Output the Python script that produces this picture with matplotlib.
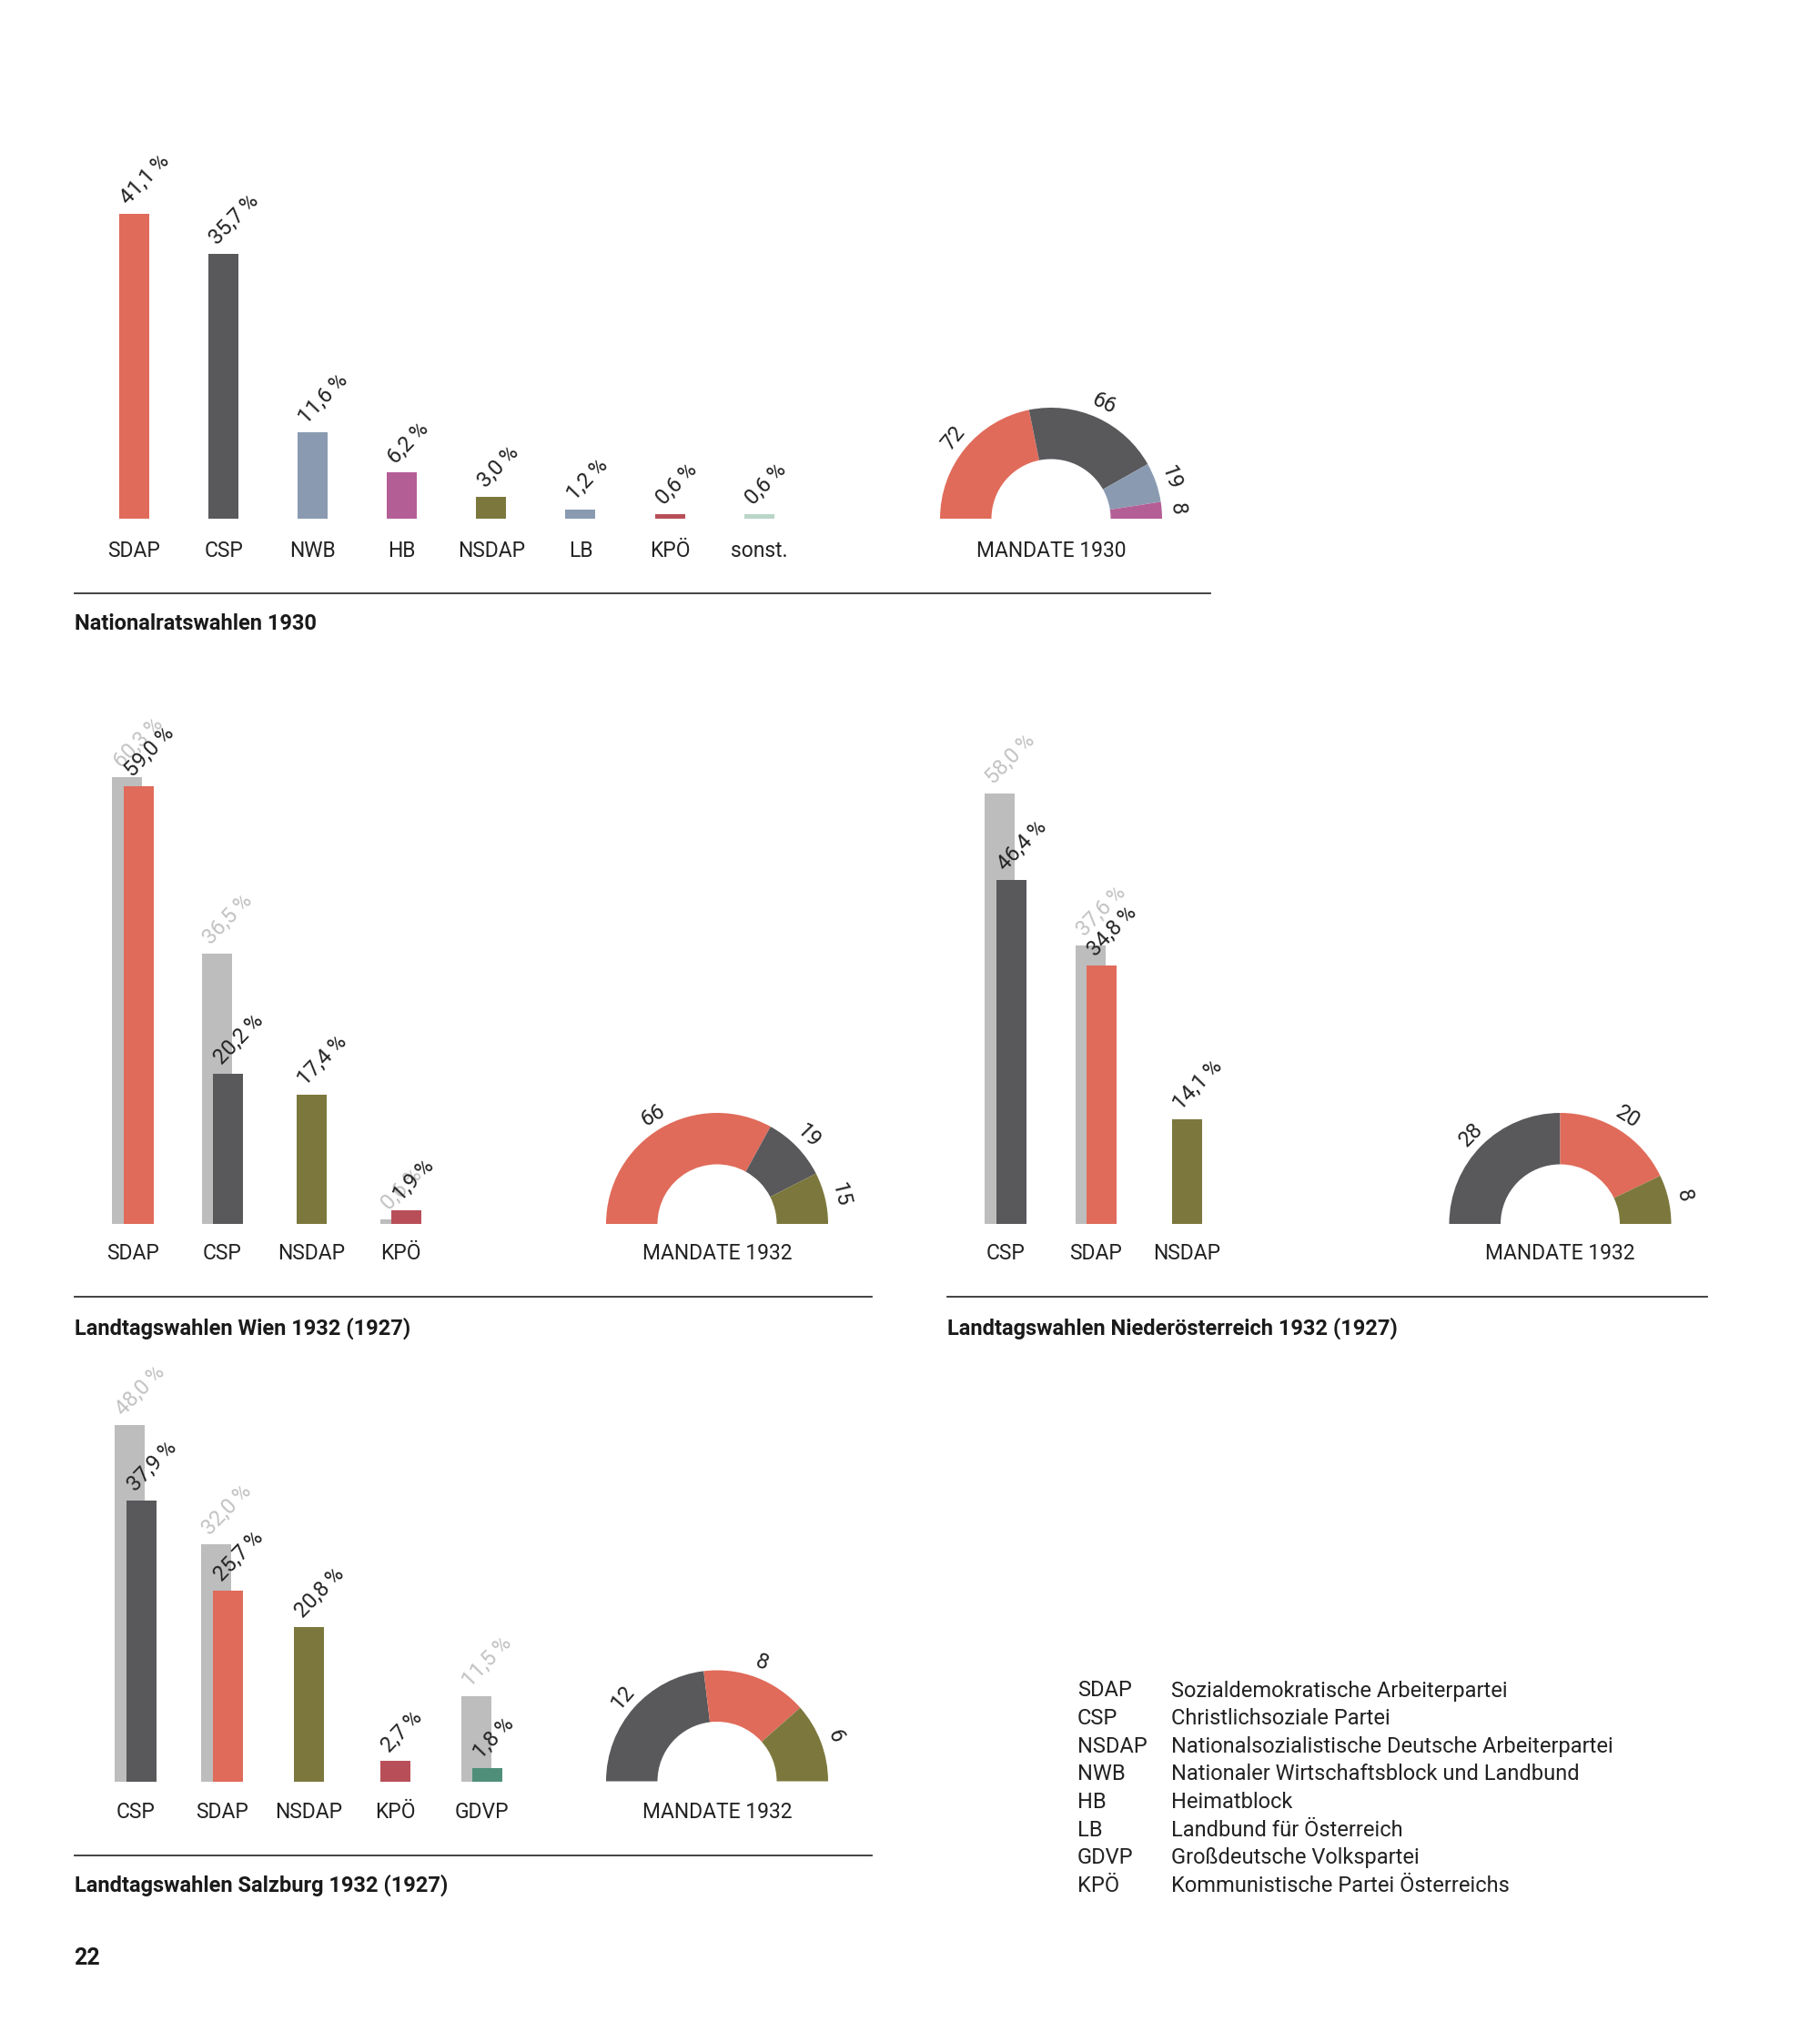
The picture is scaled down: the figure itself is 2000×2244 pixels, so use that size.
import math
import matplotlib
matplotlib.use("Agg")
import matplotlib.pyplot as plt
from matplotlib.lines import Line2D

plt.rcParams['font.family'] = ['Roboto', 'DejaVu Sans']

# ---------------- data ----------------
# Nationalratswahlen 1930
nr_parties = ["SDAP", "CSP", "NWB", "HB", "NSDAP", "LB", "KPÖ", "sonst."]
nr_votes = [41.1, 35.7, 11.6, 6.2, 3.0, 1.2, 0.6, 0.6]
nr_seat_parties = ["SDAP", "CSP", "NWB", "HB"]
nr_seats = [72, 66, 19, 8]

# Landtagswahlen Wien 1932 (1927)
wien_parties = ["SDAP", "CSP", "NSDAP", "KPÖ"]
wien_1932 = [59.0, 20.2, 17.4, 1.9]
wien_1927 = [60.3, 36.5, None, 0.6]
wien_seat_parties = ["SDAP", "CSP", "NSDAP"]
wien_seats = [66, 19, 15]

# Landtagswahlen Niederösterreich 1932 (1927)
noe_parties = ["CSP", "SDAP", "NSDAP"]
noe_1932 = [46.4, 34.8, 14.1]
noe_1927 = [58.0, 37.6, None]
noe_seat_parties = ["CSP", "SDAP", "NSDAP"]
noe_seats = [28, 20, 8]

# Landtagswahlen Salzburg 1932 (1927)
sbg_parties = ["CSP", "SDAP", "NSDAP", "KPÖ", "GDVP"]
sbg_1932 = [37.9, 25.7, 20.8, 2.7, 1.8]
sbg_1927 = [48.0, 32.0, None, None, 11.5]
sbg_seat_parties = ["CSP", "SDAP", "NSDAP"]
sbg_seats = [12, 8, 6]

legend_abbr = ["SDAP", "CSP", "NSDAP", "NWB", "HB", "LB", "GDVP", "KPÖ"]
legend_full = ["Sozialdemokratische Arbeiterpartei", "Christlichsoziale Partei",
               "Nationalsozialistische Deutsche Arbeiterpartei",
               "Nationaler Wirtschaftsblock und Landbund", "Heimatblock",
               "Landbund für Österreich", "Großdeutsche Volkspartei",
               "Kommunistische Partei Österreichs"]

titles = ["Nationalratswahlen 1930", "Landtagswahlen Wien 1932 (1927)",
          "Landtagswahlen Niederösterreich 1932 (1927)",
          "Landtagswahlen Salzburg 1932 (1927)"]
page_number = "22"

# ---------------- styles ----------------
party_colors = {
    "SDAP": "#E06B5A", "CSP": "#59585B", "NWB": "#8A9BB1", "HB": "#B45E96",
    "NSDAP": "#7C783D", "LB": "#8A9BB1", "KPÖ": "#B84F58", "sonst.": "#B9D6C8",
    "GDVP": "#4F8F79",
}
PREV_COLOR = "#BDBDBD"
PREV_TEXT = "#C2C2C2"
TEXT = "#222222"
LINE = "#333333"

W, H = 2000, 2244
fig = plt.figure(figsize=(W / 100, H / 100), dpi=100)
fig.patch.set_facecolor("white")

PX_PER_PCT = 8.15
BAR_W = 33.0
OFFSET = 6.3
LABEL_FS = 16.5
VALUE_FS = 17
TITLE_FS = 17
LEGEND_FS = 17


def px_axes(left, top, width, height):
    return fig.add_axes([left / W, 1 - (top + height) / H, width / W, height / H])


def fmt(v):
    return f"{v:.1f}".replace(".", ",") + "\u2009%"


def bar_panel(baseline, start, spacing, parties, cur, prev, label_y, left, right):
    height = 600
    ax = px_axes(left, baseline - height, right - left, height)
    ax.set_ylim(0, height / PX_PER_PCT)
    ax.set_xlim((left - start) / spacing, (right - start) / spacing)
    ax.axis("off")
    bw = BAR_W / spacing
    off = OFFSET / spacing
    dx = 10 / spacing
    dy = 9 / PX_PER_PCT
    for i, p in enumerate(parties):
        pv = prev[i] if prev is not None else None
        xc = i
        if pv is not None:
            ax.bar(i - off, pv, width=bw, color=PREV_COLOR, linewidth=0)
            xc = i + off
            ax.text(i - off - bw / 2 + dx, pv + dy, fmt(pv), rotation=46,
                    rotation_mode="anchor", ha="left", va="baseline",
                    fontsize=VALUE_FS, color=PREV_TEXT)
        ax.bar(xc, cur[i], width=bw, color=party_colors[p], linewidth=0)
        ax.text(xc - bw / 2 + dx, cur[i] + dy, fmt(cur[i]), rotation=46,
                rotation_mode="anchor", ha="left", va="baseline",
                fontsize=VALUE_FS, color=TEXT)
        ax.text(i, -(label_y - baseline) / PX_PER_PCT, p, ha="center",
                va="center", fontsize=LABEL_FS, color=TEXT)
    return ax


R_PX = 122.0
RING_PX = 56.5


def mandate(cx, cy, parties, seats, title, label_y):
    S = 175
    ax = px_axes(cx - S, cy - S, 2 * S, 2 * S)
    total = sum(seats)
    cols = [party_colors[p] for p in parties] + ["none"]
    ax.pie(seats + [total], colors=cols, startangle=180, counterclock=False,
           radius=1.0, wedgeprops=dict(width=RING_PX / R_PX, linewidth=0))
    ax.set_xlim(-S / R_PX, S / R_PX)
    ax.set_ylim(-S / R_PX, S / R_PX)
    ax.set_aspect("equal")
    ax.axis("off")
    cum = 0
    for v in seats:
        mid = 180 - (cum + v / 2) / total * 180
        cum += v
        r = 1.14
        ax.text(r * math.cos(math.radians(mid)), r * math.sin(math.radians(mid)),
                str(v), rotation=mid - 90, rotation_mode="anchor",
                ha="center", va="center", fontsize=VALUE_FS, color=TEXT)
    ax.text(0, -(label_y - cy) / R_PX, title, ha="center", va="center",
            fontsize=LABEL_FS, color=TEXT)


def hline(y, x0, x1):
    fig.add_artist(Line2D([x0 / W, x1 / W], [1 - y / H, 1 - y / H],
                          transform=fig.transFigure, color=LINE, lw=1.3))


def ftext(x, y, s, **kw):
    fig.text(x / W, 1 - y / H, s, **kw)


# Nationalratswahlen 1930
bar_panel(570, 147.5, 98.1, nr_parties, nr_votes, None, 606, 60, 900)
mandate(1155, 570, nr_seat_parties, nr_seats, "MANDATE 1930", 606)
hline(651.5, 81.5, 1330)
ftext(81.5, 686, titles[0], fontsize=TITLE_FS, fontweight="bold", color="#1a1a1a",
      ha="left", va="center")

# Wien
bar_panel(1345, 146.2, 98.15, wien_parties, wien_1932, wien_1927, 1378, 60, 600)
mandate(788, 1345, wien_seat_parties, wien_seats, "MANDATE 1932", 1378)
hline(1425, 81.5, 958)
ftext(81.5, 1460, titles[1], fontsize=TITLE_FS, fontweight="bold", color="#1a1a1a",
      ha="left", va="center")

# Niederösterreich
bar_panel(1345, 1105, 99.5, noe_parties, noe_1932, noe_1927, 1378, 1040, 1500)
mandate(1714.5, 1345, noe_seat_parties, noe_seats, "MANDATE 1932", 1378)
hline(1424.5, 1041, 1876)
ftext(1041, 1460, titles[2], fontsize=TITLE_FS, fontweight="bold", color="#1a1a1a",
      ha="left", va="center")

# Salzburg
bar_panel(1957.5, 148.7, 95.2, sbg_parties, sbg_1932, sbg_1927, 1991, 60, 620)
mandate(788, 1957.5, sbg_seat_parties, sbg_seats, "MANDATE 1932", 1991)
hline(2039, 81.5, 958)
ftext(81.5, 2071.5, titles[3], fontsize=TITLE_FS, fontweight="bold", color="#1a1a1a",
      ha="left", va="center")

ftext(81.5, 2152, page_number, fontsize=18, fontweight="bold", color="#1a1a1a",
      ha="left", va="center")

# Legend
for k, (a, f) in enumerate(zip(legend_abbr, legend_full)):
    y = 1858 + k * 30.6
    ftext(1184, y, a, fontsize=LEGEND_FS, color=TEXT, ha="left", va="center")
    ftext(1287, y, f, fontsize=LEGEND_FS, color=TEXT, ha="left", va="center")

fig.savefig("out.png", dpi=100, facecolor="white")
